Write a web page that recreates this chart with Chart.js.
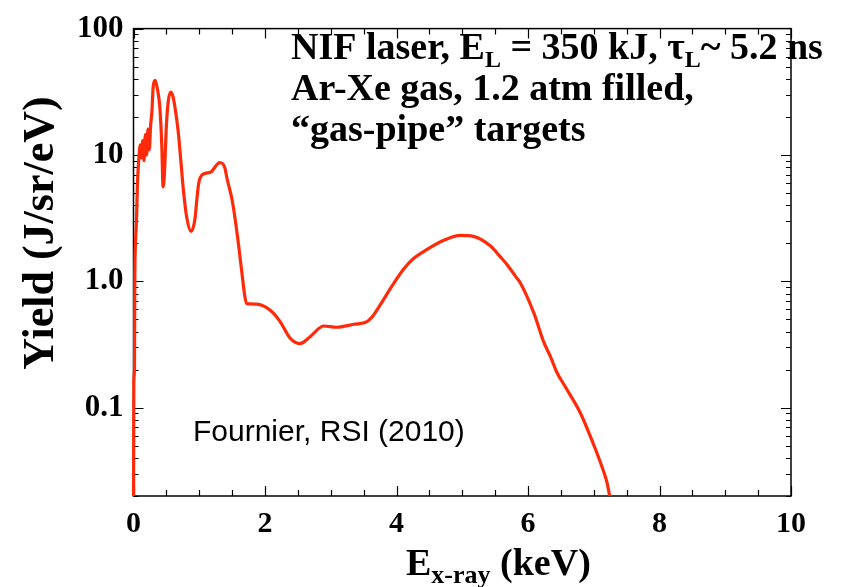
<!DOCTYPE html>
<html>
<head>
<meta charset="utf-8">
<script src="https://cdn.jsdelivr.net/npm/chart.js@4.4.1/dist/chart.umd.min.js"></script>
<style>
  html, body { margin: 0; padding: 0; background: #fff; }
  #wrap { width: 846px; height: 587px; position: relative; }
</style>
</head>
<body>
<div id="wrap"><canvas id="yieldChart" width="846" height="587"></canvas></div>
<script>
// x-ray photon energy (keV) and spectral yield (J/sr/eV)
var energyKeV = [
  0, 0.005, 0.015, 0.02, 0.03, 0.045, 0.06, 0.09, 0.10, 0.12, 0.14, 0.16, 0.18, 0.20,
  0.22, 0.24, 0.26, 0.28, 0.30, 0.33, 0.36, 0.40, 0.43, 0.45, 0.47, 0.50, 0.53, 0.57,
  0.60, 0.63, 0.68, 0.72, 0.76, 0.81, 0.875, 0.93, 0.99, 1.06, 1.17, 1.31, 1.39, 1.42,
  1.50, 1.55, 1.60, 1.65, 1.69, 1.72, 1.875, 2.08, 2.23, 2.38, 2.53, 2.69, 2.89,
  3.09, 3.35, 3.55, 3.65, 3.75, 3.95, 4.11, 4.25, 4.46, 4.72, 4.97, 5.17, 5.43, 5.58,
  5.68, 5.83, 5.88, 6.09, 6.24, 6.34, 6.44, 6.59, 6.80, 6.95, 7.10, 7.20, 7.25
];
var yieldJsrEv = [
  0.015, 0.16, 0.2, 1.0, 2.0, 3.0, 5.9, 10.7, 12, 9.5, 13, 9, 14.5, 10,
  16, 11, 17, 22, 35, 39, 34, 24, 12, 5.6, 7, 17, 27, 31.5,
  29, 24, 15.3, 9, 5.2, 3.2, 2.48, 3.0, 5.9, 7.05, 7.3, 8.7, 7.9, 6.6,
  4.4, 3.0, 1.9, 1.15, 0.78, 0.665, 0.66, 0.59, 0.48, 0.356, 0.321, 0.366, 0.443,
  0.433, 0.457, 0.48, 0.54, 0.647, 0.95, 1.25, 1.5, 1.78, 2.11, 2.31, 2.27, 1.90, 1.56,
  1.36, 1.06, 0.98, 0.56, 0.33, 0.255, 0.19, 0.14, 0.090, 0.059, 0.037, 0.0257, 0.019
];

var xTickValues = [0, 2, 4, 6, 8, 10];
var xTickLabels = ['0', '2', '4', '6', '8', '10'];
var yTickValues = [0.1, 1, 10, 100];
var yTickLabels = ['0.1', '1.0', '10', '100'];

// annotation lines, each a list of [text, subscript?] runs
var noteLines = [
  [['NIF laser, E', false], ['L', true], [' = 350 kJ, \u03c4', false], ['L', true], ['~ 5.2 ns', false]],
  [['Ar-Xe gas, 1.2 atm filled,', false]],
  [['\u201cgas-pipe\u201d targets', false]]
];
var citation = 'Fournier, RSI (2010)';

var points = [];
for (var i = 0; i < energyKeV.length; i++) {
  points.push({ x: energyKeV[i], y: yieldJsrEv[i] });
}

var SERIF = '"Liberation Serif", "DejaVu Serif", serif';

function drawRuns(ctx, runs, x, y, size, subRatio) {
  for (var r = 0; r < runs.length; r++) {
    var sub = runs[r][1];
    ctx.font = 'bold ' + (sub ? Math.round(size * subRatio) : size) + 'px ' + SERIF;
    ctx.fillText(runs[r][0], x, sub ? y + size * 0.22 : y);
    x += ctx.measureText(runs[r][0]).width;
  }
}

// frame, inward tick marks on all four sides, titles and notes
var framePlugin = {
  id: 'frame',
  beforeDatasetsDraw: function (chart) {
    var ctx = chart.ctx, a = chart.chartArea;
    var xs = chart.scales.x, ys = chart.scales.y;
    ctx.save();
    ctx.strokeStyle = '#000';
    ctx.lineWidth = 1.5;
    ctx.strokeRect(a.left, a.top, a.right - a.left, a.bottom - a.top);
    ctx.lineWidth = 1.2;
    ctx.beginPath();
    // x: tick every 0.5 keV, long at labelled values
    for (var k = 0; k <= 20; k++) {
      var v = k * 0.5;
      var px = Math.round(xs.getPixelForValue(v)) + 0.5;
      var len = (xTickValues.indexOf(v) >= 0) ? 10 : 6;
      ctx.moveTo(px, a.bottom); ctx.lineTo(px, a.bottom - len);
      ctx.moveTo(px, a.top); ctx.lineTo(px, a.top + len);
    }
    // y: decades long, 2..9 short
    for (var d = -2; d <= 1; d++) {
      for (var m = 1; m <= 9; m++) {
        var val = m * Math.pow(10, d);
        if (val < ys.min || val > ys.max) continue;
        var py = Math.round(ys.getPixelForValue(val)) + 0.5;
        var l = (m === 1) ? 10 : 5;
        ctx.moveTo(a.left, py); ctx.lineTo(a.left + l, py);
        ctx.moveTo(a.right, py); ctx.lineTo(a.right - l, py);
      }
    }
    var topPy = Math.round(ys.getPixelForValue(100)) + 0.5;
    ctx.moveTo(a.left, topPy); ctx.lineTo(a.left + 10, topPy);
    ctx.stroke();
    ctx.restore();
  },
  afterDraw: function (chart) {
    var ctx = chart.ctx;
    ctx.save();
    ctx.fillStyle = '#000';
    ctx.textBaseline = 'alphabetic';
    ctx.textAlign = 'left';

    // y title
    ctx.save();
    ctx.translate(53, 233);
    ctx.rotate(-Math.PI / 2);
    ctx.textAlign = 'center';
    ctx.font = 'bold 44px ' + SERIF;
    ctx.fillText('Yield (J/sr/eV)', 0, 0);
    ctx.restore();

    // x title with subscript
    drawRuns(ctx, [['E', false], ['x-ray', true], [' (keV)', false]], 406, 575, 38, 0.68);

    // notes
    for (var n = 0; n < noteLines.length; n++) {
      drawRuns(ctx, noteLines[n], 291, 59 + n * 41, 38, 0.62);
    }

    ctx.font = '30px "Liberation Sans", Arial, sans-serif';
    ctx.fillText(citation, 193, 441);
    ctx.restore();
  }
};

new Chart(document.getElementById('yieldChart'), {
  type: 'scatter',
  data: {
    datasets: [{
      data: points,
      showLine: true,
      borderColor: '#ff2a0a',
      borderWidth: 3.2,
      pointRadius: 0,
      cubicInterpolationMode: 'monotone',
      clip: { left: 3, top: 0, right: 0, bottom: 0 }
    }]
  },
  options: {
    responsive: false,
    animation: false,
    events: [],
    layout: { padding: { left: 0, top: 22, right: 55, bottom: 51 } },
    plugins: { legend: { display: false }, tooltip: { enabled: false } },
    scales: {
      x: {
        type: 'linear',
        min: 0,
        max: 10,
        afterBuildTicks: function (scale) {
          scale.ticks = xTickValues.map(function (v) { return { value: v }; });
        },
        afterFit: function (scale) { scale.height = 40; },
        grid: { display: false, drawTicks: false },
        border: { display: false },
        ticks: {
          padding: 10,
          color: '#000',
          font: { family: SERIF, size: 30, weight: 'bold' },
          callback: function (v) {
            var i = xTickValues.indexOf(v);
            return i >= 0 ? xTickLabels[i] : '';
          }
        }
      },
      y: {
        type: 'logarithmic',
        min: 0.02,
        max: 100,
        afterBuildTicks: function (scale) {
          scale.ticks = yTickValues.map(function (v) { return { value: v }; });
        },
        afterFit: function (scale) { scale.width = 133.5; },
        grid: { display: false, drawTicks: false },
        border: { display: false },
        ticks: {
          padding: 10,
          color: '#000',
          font: { family: SERIF, size: 31, weight: 'bold' },
          callback: function (v) {
            var i = yTickValues.indexOf(v);
            return i >= 0 ? yTickLabels[i] : '';
          }
        }
      }
    }
  },
  plugins: [framePlugin]
});
</script>
</body>
</html>
